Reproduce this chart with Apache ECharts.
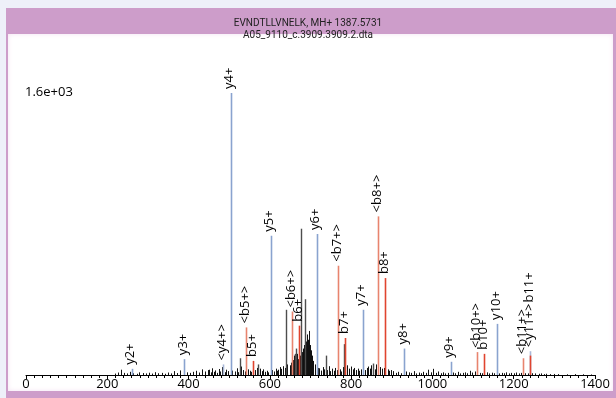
<!DOCTYPE html>
<html><head><meta charset="utf-8">
<script src="https://cdn.jsdelivr.net/npm/echarts@6/dist/echarts.min.js"></script>
<style>
html,body{margin:0;padding:0;background:#eef0f9;overflow:hidden;}
#frame{position:absolute;left:6px;top:8px;width:610px;height:390px;background:#cd9dca;}
#inner{position:absolute;left:8px;top:34px;width:605px;height:357px;background:#fff;box-shadow:inset 0 0 5px #f4e2f2;}
#c{position:absolute;left:0;top:0;width:616px;height:398px;}
</style></head>
<body><div id="frame"></div><div id="inner"></div><div id="c"></div>
<script>
// ---- data ----
const titleLines = ['EVNDTLLVNELK, MH+ 1387.5731', 'A05_9110_c.3909.3909.2.dta'];
const maxLabel = '1.6e+03';
const xTicks = [0, 200, 400, 600, 800, 1000, 1200, 1400];

const peakLabels = ['y2+','y3+','<y4+>','y4+','<b5+>','b5+','y5+','<b6+>','b6+','y6+','<b7+>','b7+','y7+','<b8+>','b8+','y8+','y9+','<b10+>','b10+','y10+','<b11+>','<y11+>','b11+'];
const peakMz = [260.2,389.2,485.3,503.3,541.2,559.2,602.3,654.3,672.3,715.4,767.4,785.4,828.5,866.5,884.5,929.6,1044.6,1109.5,1127.6,1158.6,1222.6,1239.7,1240.6];
const peakInt = [35,90,60,1600,270,80,790,360,280,800,620,210,370,900,550,150,75,130,120,290,95,135,110];
const peakType = ['y','y','yw','y','bw','b','y','bw','b','y','bw','b','y','bw','b','y','y','bw','b','y','bw','yw','b'];

const otherMz = [526, 572, 640, 661, 665, 676.5, 686, 737, 782, 854];
const otherInt = [95, 60, 370, 120, 150, 830, 430, 110, 175, 65];

const noiseMz = [218,226,233,241,249,256,264,272,279,287,295,303,311,318,326,334,341,349,357,365,372,380,396,403,411,418,426,434,441,447,
450,454,458,462,466,470,474,478,482,489,493,497,508,514,518,522,530,534,538,546,550,554,564,568,576,580,584,588,592,596,606,610,614,618,
620,624,628,633,637,643,649,652,657,660,663,667,669,671,674,679,681,683,688,690,692,694,696,698,700,703,707,712,718,
722,726,730,734,741,745,749,753,757,761,765,772,776,780,790,794,800,804,808,812,816,820,824,834,838,842,846,850,858,862,872,876,880,890,894,898,
904,910,916,922,936,942,948,954,960,966,972,978,984,990,996,1002,1008,1014,1020,1026,1032,1038,1050,1056,1062,1068,1074,1080,1086,1092,1098,1104,1116,1122,1134,1140,1146,1152,1164,1170,1176,1182,1188,1194,1200,1206,1212,1218,1228,1234,1246,1252,1262,1268,1274,1280,1290,1300,1310,1330,1350,1370,1390];
const noiseInt = [8,14,30,12,9,18,10,7,15,11,9,13,8,16,10,12,7,14,9,22,11,26,15,12,18,24,14,32,20,28,
30,15,38,18,26,12,34,20,45,16,30,22,25,20,38,16,48,28,20,32,24,18,28,40,36,22,32,18,24,15,28,20,36,24,
30,45,35,50,40,60,55,70,85,110,95,120,90,140,110,130,150,170,190,160,230,200,250,170,140,110,80,60,40,
38,25,45,32,28,50,22,36,24,40,28,32,20,45,55,36,48,32,40,28,36,24,32,28,40,48,36,55,32,60,45,36,40,32,24,28,
22,12,18,10,20,15,12,22,9,14,10,18,12,30,15,35,12,20,10,15,9,12,14,10,18,9,12,15,10,24,14,20,12,10,15,9,13,10,9,12,10,15,9,12,10,14,9,12,10,9,10,9,7,9,5,7,5,6,5,4,5,4,3];

// ---- chart ----
const typeColor = { y: '#8aa3cf', yw: '#a9b8d8', b: '#e0452f', bw: '#e8846e' };
const FONT = '13px "Open Sans"';
const ctx = document.createElement('canvas').getContext('2d');
ctx.font = FONT;

function stickSeries(name, mzs, ints, colorOf, width, z) {
  return {
    type: 'custom', name, z,
    data: mzs.map((m, i) => [m, ints[i], i]),
    renderItem: (params, api) => {
      const i = api.value(2);
      const p = api.coord([api.value(0), api.value(1)]);
      const b = api.coord([api.value(0), 0]);
      const x = Math.round(p[0]) + 0.5;
      return { type: 'line', shape: { x1: x, y1: b[1], x2: x, y2: p[1] },
        style: { stroke: colorOf(i), lineWidth: width } };
    }
  };
}

function labelPositions(api) {
  const pos = [];
  for (let i = 0; i < peakMz.length; i++) {
    const p = api.coord([peakMz[i], peakInt[i]]);
    const w = ctx.measureText(peakLabels[i]).width;
    let start = p[1] - 4;
    for (let j = 0; j < i; j++) {
      if (Math.abs(pos[j].x - p[0]) < 5 && start > pos[j].end - 1) start = pos[j].end - 1;
    }
    pos.push({ x: p[0], start, end: start - w });
  }
  return pos;
}

const chart = echarts.init(document.getElementById('c'), null, { renderer: 'canvas' });
chart.setOption({
  backgroundColor: 'transparent',
  animation: false,
  title: {
    text: titleLines.join('\n'), left: 'center', top: 12,
    textStyle: { fontSize: 10, lineHeight: 12, fontWeight: 'normal', color: '#222', fontFamily: 'Roboto' }
  },
  grid: { left: 26, right: 21, top: 93, bottom: 23 },
  xAxis: {
    type: 'value', min: xTicks[0], max: xTicks[xTicks.length - 1], interval: 200,
    axisLine: { lineStyle: { color: '#000', width: 1 } },
    axisTick: { show: true, length: 4, lineStyle: { color: '#000' } },
    minorTick: { show: true, splitNumber: 10, length: 3, lineStyle: { color: '#000' } },
    splitLine: { show: false },
    axisLabel: { color: '#000', fontSize: 13, fontFamily: 'Open Sans', margin: 3, formatter: v => String(v) }
  },
  yAxis: { type: 'value', min: 0, max: 1600, show: false },
  graphic: [
    { type: 'text', left: 25, top: 86, style: { text: maxLabel, font: FONT, fill: '#000' } }
  ],
  series: [
    stickSeries('noise', noiseMz, noiseInt, () => '#111', 1, 2),
    stickSeries('other', otherMz, otherInt, () => '#4d4d4d', 1.4, 3),
    stickSeries('ions', peakMz, peakInt, i => typeColor[peakType[i]], 1.6, 4),
    {
      type: 'custom', name: 'labels', z: 5,
      data: peakMz.map((m, i) => [m, peakInt[i], i]),
      renderItem: (params, api) => {
        const i = api.value(2);
        const pos = labelPositions(api)[i];
        return { type: 'text', x: pos.x - 1, y: pos.start, rotation: Math.PI / 2,
          style: { text: peakLabels[i], font: FONT, fill: '#000', align: 'left', verticalAlign: 'middle' } };
      }
    }
  ]
});
</script></body></html>
